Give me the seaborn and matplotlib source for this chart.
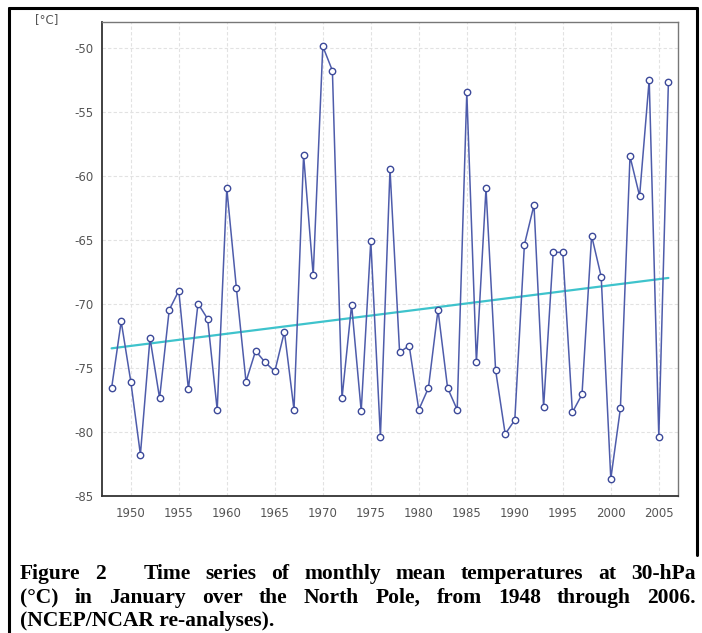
import matplotlib
matplotlib.use("Agg")
import matplotlib.pyplot as plt
from matplotlib.lines import Line2D
import numpy as np
import pandas as pd
import seaborn as sns

# ---- data ----
years = list(range(1948, 2007))
temps = [-76.6, -71.4, -76.1, -81.8, -72.7, -77.4, -70.5, -69.0, -76.7, -70.0,
         -71.2, -78.3, -61.0, -68.8, -76.1, -73.7, -74.6, -75.3, -72.2, -78.3,
         -58.4, -67.8, -49.9, -51.8, -77.4, -70.1, -78.4, -65.1, -80.4, -59.5,
         -73.8, -73.3, -78.3, -76.6, -70.5, -76.6, -78.3, -53.5, -74.6, -61.0,
         -75.2, -80.2, -79.1, -65.4, -62.3, -78.1, -66.0, -66.0, -78.5, -77.1,
         -64.7, -67.9, -83.7, -78.2, -58.5, -61.6, -52.5, -80.4, -52.7]
trend_years = [1948, 2006]
trend_values = [-73.5, -68.0]
xtick_values = list(range(1950, 2006, 5))
ytick_values = list(range(-85, -49, 5))
unit_label = "[°C]"
caption_line1 = ["Figure", "2", "Time", "series", "of", "monthly", "mean", "temperatures", "at", "30-hPa"]
caption_line2 = ["(°C)", "in", "January", "over", "the", "North", "Pole,", "from", "1948", "through", "2006."]
caption_line3 = "(NCEP/NCAR re-analyses)."

df = pd.DataFrame({"year": years, "temp": temps})
df_trend = pd.DataFrame({"year": trend_years, "temp": trend_values})

sns.set_style("white")
plt.rcParams["font.family"] = ["DejaVu Sans"]

W, H = 702, 633
fig = plt.figure(figsize=(W / 100, H / 100), dpi=100)
fig.patch.set_facecolor("white")

def fx(px):
    return px / W

def fy(py):
    return 1 - py / H

ax_left, ax_right, ax_top, ax_bottom = 102, 678, 22, 495.5
ax = fig.add_axes([fx(ax_left), fy(ax_bottom), fx(ax_right - ax_left), (ax_bottom - ax_top) / H])

sns.lineplot(data=df_trend, x="year", y="temp", ax=ax, color="#3ec3cc", linewidth=1.6, zorder=2)
sns.lineplot(data=df, x="year", y="temp", ax=ax, color="#4e5cab", linewidth=1.1,
             marker="o", markersize=4.6, markerfacecolor="white", markeredgecolor="#3d4a9a",
             markeredgewidth=1.0, zorder=3)

ax.set_xlim(1947, 2007)
ax.set_ylim(-85, -48.0)
ax.set_xticks(xtick_values)
ax.set_yticks(ytick_values)
ax.set_xticklabels([str(v) for v in xtick_values])
ax.set_yticklabels([str(v) for v in ytick_values])
ax.set_xlabel("")
ax.set_ylabel("")
ax.grid(True, color="#e2e2e2", linewidth=0.8, linestyle=(0, (3, 2)))
ax.set_axisbelow(True)
ax.tick_params(axis="both", direction="out", length=3, width=0.8, colors="#444444",
               labelsize=8.5, labelcolor="#555555", pad=3)
ax.tick_params(axis="x", pad=5)
for side in ["left", "bottom"]:
    ax.spines[side].set_color("#333333")
    ax.spines[side].set_linewidth(1.3)
for side in ["top", "right"]:
    ax.spines[side].set_color("#777777")
    ax.spines[side].set_linewidth(1.0)
    ax.spines[side].set_visible(True)

fig.text(fx(47), fy(20), unit_label, ha="center", va="center", fontsize=8.5, color="#555555")

# outer page frame
frame_kw = dict(transform=fig.transFigure, color="black", linewidth=2.2)
fig.add_artist(Line2D([fx(9), fx(697)], [fy(8), fy(8)], **frame_kw))
fig.add_artist(Line2D([fx(9), fx(9)], [fy(8), 0], **frame_kw))
fig.add_artist(Line2D([fx(697), fx(697)], [fy(8), fy(555)], **frame_kw))

cap_kw = dict(family=["Liberation Serif"], fontweight="bold", fontsize=15.5, color="black",
              va="baseline", ha="left")

fig.canvas.draw()
renderer = fig.canvas.get_renderer()

def justify(words, x0, x1, ybase, gap_weights=None):
    texts = [fig.text(0, fy(ybase), w, **cap_kw) for w in words]
    widths = [t.get_window_extent(renderer).width for t in texts]
    if gap_weights is None:
        gap_weights = [1.0] * (len(words) - 1)
    free = (x1 - x0) - sum(widths)
    unit = free / sum(gap_weights)
    x = x0
    for i, t in enumerate(texts):
        t.set_x(fx(x))
        x += widths[i]
        if i < len(gap_weights):
            x += unit * gap_weights[i]

g1 = [1.0] * (len(caption_line1) - 1)
g1[1] = 2.5
justify(caption_line1, 20, 696, 579, g1)
justify(caption_line2, 20, 696, 603)
fig.text(fx(20), fy(626), caption_line3, **cap_kw)

fig.savefig("out.png", dpi=100)
